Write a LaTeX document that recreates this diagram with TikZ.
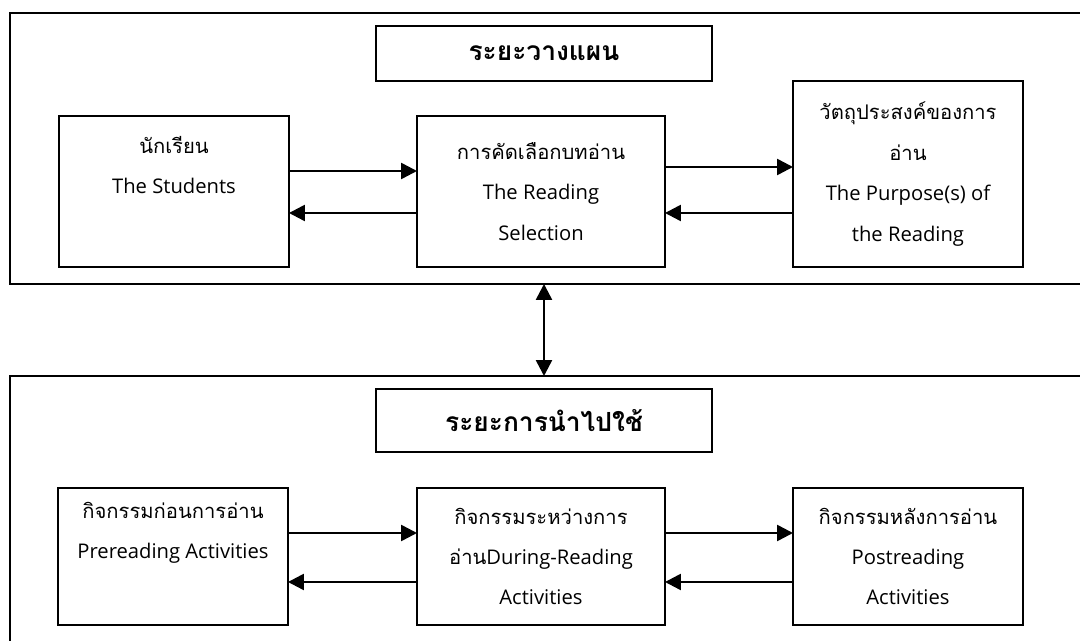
\documentclass[tikz,border=0pt]{standalone}
\usepackage{fontspec}
\setmainfont{Open Sans}
\newfontfamily\thai{Loma}[Script=Thai, Scale=1.0]
\usepackage{tikz}
\usetikzlibrary{arrows.meta,positioning}
\tikzstyle{frame} = [draw, line width=1.4pt, inner sep=0pt, outer sep=0pt]
\tikzstyle{box} = [draw, line width=1.4pt, align=center, inner sep=0pt, outer sep=0pt,
  font=\fontsize{11.5}{23}\selectfont]
\tikzstyle{titlebox} = [box, font=\fontsize{15}{20}\selectfont\bfseries]
\tikzstyle{arrow} = [line width=1.4pt, -{Triangle[length=0.32cm,width=0.32cm]}]

\begin{document}
\begin{tikzpicture}[x=0.02cm, y=-0.02cm]
\clip (0,0) rectangle (1080,641);
\fill[white] (0,0) rectangle (1080,641);

% Planning stage
\node[frame, minimum width=21.8cm, minimum height=5.42cm] (plan) at (555,148.5) {};
\node[titlebox, minimum width=6.72cm, minimum height=1.1cm] (plantitle) at (544,53.5) {\thai ระยะวางแผน};
\node[box, minimum width=4.6cm, minimum height=3.02cm] (students) at (174,191.5)
  {{\thai นักเรียน}\\The Students\\\strut};
\node[box, minimum width=4.96cm, minimum height=3.02cm] (select) at (541,191.5)
  {{\thai การคัดเลือกบทอ่าน}\\The Reading\\Selection};
\node[box, minimum width=4.6cm, minimum height=3.72cm] (purpose) at (908,174)
  {{\thai วัตถุประสงค์ของการ}\\{\thai อ่าน}\\The Purpose(s) of\\the Reading};

\draw[arrow] ([yshift=0.41cm]students.east) -- ([yshift=0.41cm]select.west);
\draw[arrow] ([yshift=-0.43cm]select.west) -- ([yshift=-0.43cm]students.east);
\draw[arrow] ([yshift=0.49cm]select.east) -- ([yshift=0.49cm]select.east -| purpose.west);
\draw[arrow] ([yshift=-0.43cm]select.east -| purpose.west) -- ([yshift=-0.43cm]select.east);

% Applying stage
\node[frame, minimum width=21.8cm, minimum height=6.08cm] (apply) at (555,528) {};
\node[titlebox, minimum width=6.72cm, minimum height=1.26cm] (applytitle) at (544,420.5) {\thai ระยะการนำไปใช้};
\node[box, minimum width=4.6cm, minimum height=2.74cm] (pre) at (173,556.5)
  {{\thai กิจกรรมก่อนการอ่าน}\\Prereading Activities\\\strut};
\node[box, minimum width=4.96cm, minimum height=2.74cm] (during) at (541,556.5)
  {{\thai กิจกรรมระหว่างการ}\\{\thai อ่าน}During-Reading\\Activities};
\node[box, minimum width=4.6cm, minimum height=2.74cm] (post) at (908,556.5)
  {{\thai กิจกรรมหลังการอ่าน}\\Postreading\\Activities};

\draw[arrow] ([yshift=0.47cm]pre.east) -- ([yshift=0.47cm]during.west);
\draw[arrow] ([yshift=-0.51cm]during.west) -- ([yshift=-0.51cm]pre.east);
\draw[arrow] ([yshift=0.47cm]during.east) -- ([yshift=0.47cm]post.west);
\draw[arrow] ([yshift=-0.51cm]post.west) -- ([yshift=-0.51cm]during.east);

% Link between stages
\draw[line width=1.4pt, {Triangle[length=0.32cm,width=0.32cm]}-{Triangle[length=0.32cm,width=0.32cm]}]
  (plan.south -| plantitle.south) -- (apply.north -| plantitle.south);
\end{tikzpicture}
\end{document}
